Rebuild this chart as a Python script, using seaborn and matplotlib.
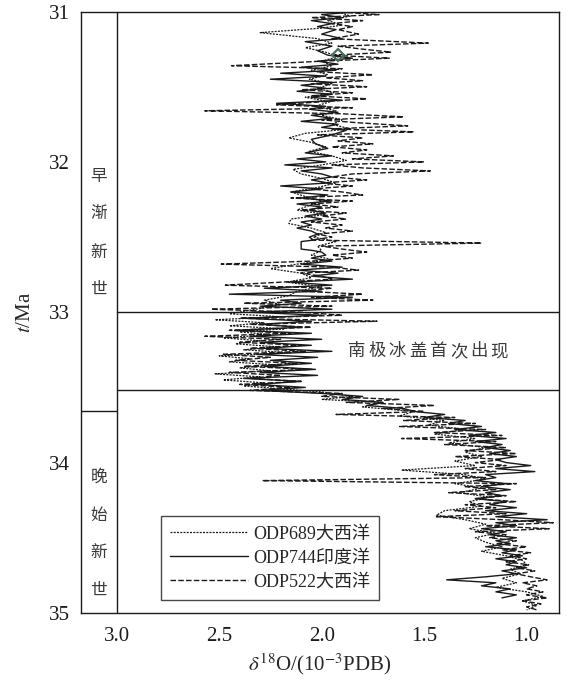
import matplotlib
matplotlib.use("Agg")
import matplotlib.pyplot as plt
import seaborn as sns
import pandas as pd

# ODP689 Atlantic (dotted)
age_689 = [31.00, 31.03, 31.06, 31.09, 31.11, 31.14, 31.18, 31.21, 31.24, 31.27, 31.30, 31.33,
           31.36, 31.39, 31.42, 31.45, 31.48, 31.51, 31.54, 31.57, 31.60, 31.63, 31.66, 31.69,
           31.72, 31.75, 31.78, 31.81, 31.84, 31.87, 31.90, 31.93, 31.96, 31.99, 32.02, 32.05,
           32.08, 32.11, 32.14, 32.17, 32.20, 32.23, 32.26, 32.29, 32.32, 32.35, 32.38, 32.41,
           32.44, 32.47, 32.50, 32.53, 32.56, 32.59, 32.62, 32.65, 32.68, 32.71, 32.74, 32.77,
           32.80, 32.83, 32.86, 32.89, 32.92, 32.95, 32.98, 33.01, 33.03, 33.05, 33.07, 33.09,
           33.11, 33.13, 33.15, 33.17, 33.19, 33.21, 33.23, 33.25, 33.27, 33.29, 33.31, 33.33,
           33.35, 33.37, 33.39, 33.41, 33.43, 33.45, 33.47, 33.49, 33.51, 33.53, 33.56, 33.58,
           33.60, 33.63, 33.66, 33.69, 33.72, 33.75, 33.78, 33.81, 33.84, 33.87, 33.90, 33.93,
           33.96, 33.99, 34.02, 34.05, 34.08, 34.11, 34.14, 34.17, 34.20, 34.23, 34.26, 34.29,
           34.32, 34.35, 34.38, 34.41, 34.44, 34.47, 34.50, 34.53, 34.56, 34.59, 34.62, 34.65,
           34.68, 34.71, 34.74, 34.77, 34.80, 34.83, 34.86, 34.89, 34.92, 34.95, 34.98]
d18o_689 = [1.92, 1.86, 1.97, 1.90, 2.00, 2.30, 2.02, 1.95, 2.08, 1.98, 1.92, 2.00,
            1.95, 2.05, 1.97, 2.06, 1.95, 2.02, 1.94, 2.08, 1.96, 2.03, 1.93, 2.00,
            1.90, 1.95, 1.86, 2.08, 2.16, 2.05, 1.98, 2.06, 1.95, 1.88, 2.00, 2.14,
            2.10, 2.00, 1.93, 2.02, 2.15, 2.08, 2.00, 2.06, 2.12, 1.98, 2.15, 2.16,
            2.05, 1.98, 2.04, 1.93, 2.02, 2.00, 2.05, 1.95, 2.12, 2.25, 2.10, 2.05,
            2.17, 2.00, 2.12, 2.16, 2.28, 2.20, 2.32, 2.45, 2.20, 2.52, 2.28, 2.45,
            2.18, 2.40, 2.25, 2.48, 2.30, 2.42, 2.22, 2.38, 2.15, 2.50, 2.35, 2.45,
            2.22, 2.40, 2.25, 2.52, 2.30, 2.48, 2.28, 2.38, 2.20, 2.00, 1.85, 2.00,
            1.70, 1.80, 1.55, 1.62, 1.40, 1.48, 1.30, 1.45, 1.25, 1.38, 1.20, 1.30,
            1.22, 1.35, 1.25, 1.61, 1.30, 1.20, 1.35, 1.22, 1.33, 1.18, 1.28, 1.22,
            1.40, 1.44, 1.30, 1.20, 1.28, 1.15, 1.25, 1.20, 1.12, 1.22, 1.10, 1.02,
            1.00, 1.08, 1.03, 1.12, 1.05, 1.15, 1.00, 0.92, 1.02, 0.95, 1.00]

# ODP744 Indian Ocean (solid)
age_744 = [31.00, 31.02, 31.04, 31.06, 31.08, 31.10, 31.12, 31.15, 31.18, 31.20, 31.23, 31.26,
           31.29, 31.31, 31.33, 31.35, 31.37, 31.39, 31.41, 31.43, 31.45, 31.47, 31.49, 31.51,
           31.53, 31.55, 31.57, 31.59, 31.61, 31.63, 31.65, 31.67, 31.69, 31.71, 31.73, 31.75,
           31.77, 31.79, 31.82, 31.85, 31.88, 31.91, 31.94, 31.96, 31.98, 32.00, 32.02, 32.04,
           32.06, 32.08, 32.10, 32.12, 32.14, 32.16, 32.18, 32.20, 32.22, 32.24, 32.26, 32.28,
           32.30, 32.32, 32.34, 32.36, 32.38, 32.40, 32.42, 32.44, 32.46, 32.48, 32.50, 32.52,
           32.53, 32.58, 32.59, 32.60, 32.62, 32.64, 32.66, 32.68, 32.70, 32.72, 32.74, 32.76,
           32.78, 32.80, 32.82, 32.84, 32.86, 32.88, 32.90, 32.92, 32.94, 32.96, 32.98, 33.00,
           33.02, 33.04, 33.06, 33.08, 33.10, 33.12, 33.14, 33.16, 33.18, 33.20, 33.22, 33.24,
           33.26, 33.28, 33.30, 33.32, 33.34, 33.36, 33.38, 33.40, 33.42, 33.44, 33.46, 33.48,
           33.50, 33.52, 33.54, 33.56, 33.58, 33.60, 33.62, 33.64, 33.66, 33.68, 33.70, 33.72,
           33.74, 33.76, 33.78, 33.80, 33.82, 33.84, 33.86, 33.88, 33.90, 33.92, 33.94, 33.96,
           33.98, 34.00, 34.02, 34.04, 34.06, 34.08, 34.10, 34.12, 34.14, 34.16, 34.18, 34.20,
           34.22, 34.24, 34.26, 34.28, 34.30, 34.32, 34.34, 34.36, 34.38, 34.40, 34.42, 34.44,
           34.46, 34.48, 34.50, 34.52, 34.54, 34.56, 34.58, 34.60, 34.62, 34.64, 34.66, 34.68,
           34.70, 34.72, 34.74, 34.76, 34.78, 34.80, 34.82, 34.84, 34.86, 34.88, 34.90]
d18o_744 = [1.82, 2.00, 1.90, 2.05, 1.95, 2.02, 1.93, 2.00, 1.90, 2.08, 1.95, 2.02,
            1.97, 1.85, 2.02, 1.92, 2.10, 1.93, 2.20, 1.98, 2.25, 1.95, 2.10, 1.98,
            2.12, 1.95, 2.05, 1.90, 2.22, 1.98, 2.06, 1.92, 2.05, 1.95, 2.10, 1.92,
            2.00, 1.88, 1.95, 2.05, 2.03, 1.97, 2.08, 1.95, 2.12, 1.98, 2.18, 1.95,
            2.10, 2.00, 1.95, 2.05, 1.97, 2.20, 2.00, 2.15, 1.97, 2.10, 1.95, 2.12,
            2.00, 2.06, 1.98, 2.08, 2.00, 2.10, 2.05, 2.12, 2.05, 2.02, 2.06, 2.04,
            2.10, 2.10, 2.04, 2.00, 1.98, 2.05, 1.95, 2.10, 1.90, 2.12, 1.92, 2.05,
            1.85, 2.15, 1.95, 2.28, 2.00, 2.45, 1.85, 2.20, 2.10, 2.30, 1.95, 2.35,
            2.00, 2.38, 2.05, 2.30, 2.10, 2.42, 2.05, 2.35, 2.00, 2.30, 2.05, 2.28,
            1.95, 2.32, 2.02, 2.25, 2.05, 2.28, 2.03, 2.30, 2.02, 2.38, 2.10, 2.32,
            2.08, 2.30, 2.00, 1.80, 1.90, 1.70, 1.78, 1.60, 1.55, 1.40, 1.50, 1.30,
            1.38, 1.22, 1.35, 1.15, 1.28, 1.10, 1.25, 1.12, 1.20, 1.08, 1.18, 1.05,
            1.15, 1.10, 0.98, 1.15, 0.96, 1.20, 1.15, 1.25, 1.10, 1.22, 1.08, 1.20,
            1.12, 1.25, 1.10, 1.18, 1.05, 1.20, 1.00, 1.15, 0.90, 1.15, 1.05, 1.22,
            1.10, 1.18, 1.05, 1.15, 1.08, 1.20, 1.05, 1.12, 1.02, 1.15, 1.05, 1.10,
            1.00, 1.12, 1.05, 1.20, 1.39, 1.15, 1.22, 1.08, 1.15, 1.05, 1.12]

# ODP522 Atlantic (dashed)
age_522 = [31.00, 31.02, 31.04, 31.06, 31.08, 31.10, 31.12, 31.15, 31.18, 31.21, 31.23, 31.25,
           31.27, 31.29, 31.31, 31.33, 31.36, 31.38, 31.40, 31.42, 31.44, 31.46, 31.48, 31.50,
           31.52, 31.54, 31.56, 31.58, 31.60, 31.62, 31.64, 31.66, 31.68, 31.70, 31.72, 31.74,
           31.76, 31.78, 31.80, 31.82, 31.84, 31.86, 31.88, 31.90, 31.92, 31.94, 31.96, 31.98,
           32.00, 32.02, 32.04, 32.06, 32.08, 32.10, 32.12, 32.14, 32.16, 32.18, 32.20, 32.22,
           32.24, 32.26, 32.28, 32.30, 32.32, 32.34, 32.36, 32.38, 32.40, 32.42, 32.44, 32.46,
           32.48, 32.50, 32.52, 32.54, 32.56, 32.58, 32.60, 32.62, 32.64, 32.66, 32.68, 32.70,
           32.72, 32.74, 32.76, 32.78, 32.80, 32.82, 32.84, 32.86, 32.88, 32.90, 32.92, 32.94,
           32.96, 32.98, 33.00, 33.02, 33.04, 33.06, 33.08, 33.10, 33.12, 33.14, 33.16, 33.18,
           33.20, 33.22, 33.24, 33.26, 33.28, 33.30, 33.32, 33.34, 33.36, 33.38, 33.40, 33.42,
           33.44, 33.46, 33.48, 33.50, 33.52, 33.54, 33.56, 33.58, 33.60, 33.62, 33.64, 33.66,
           33.68, 33.70, 33.72, 33.74, 33.76, 33.78, 33.80, 33.82, 33.84, 33.86, 33.88, 33.90,
           33.92, 33.94, 33.96, 33.98, 34.00, 34.02, 34.04, 34.06, 34.08, 34.10, 34.12, 34.14,
           34.16, 34.18, 34.20, 34.22, 34.24, 34.26, 34.28, 34.30, 34.32, 34.34, 34.36, 34.38,
           34.40, 34.42, 34.44, 34.46, 34.48, 34.50, 34.52, 34.54, 34.56, 34.58, 34.60, 34.62,
           34.64, 34.66, 34.68, 34.70, 34.72, 34.74, 34.76, 34.78, 34.80, 34.82, 34.84, 34.86,
           34.88, 34.90, 34.92, 34.94, 34.96, 34.98]
d18o_522 = [1.95, 1.72, 2.05, 1.80, 1.95, 1.85, 1.92, 1.82, 1.95, 1.48, 1.92, 1.80,
            1.66, 1.95, 1.67, 2.00, 2.44, 1.90, 2.02, 1.75, 1.98, 1.80, 2.05, 1.78,
            2.10, 1.85, 2.05, 1.78, 2.00, 2.22, 1.85, 2.57, 1.90, 1.60, 2.00, 1.82,
            1.58, 1.95, 1.55, 2.02, 1.80, 1.92, 1.75, 1.95, 1.78, 1.90, 1.65, 1.85,
            1.50, 1.95, 1.80, 1.47, 1.85, 1.95, 1.78, 2.00, 1.85, 2.05, 1.90, 1.80,
            2.15, 1.85, 2.05, 1.92, 2.10, 1.88, 2.00, 1.88, 2.05, 1.90, 1.98, 1.85,
            2.02, 1.95, 2.05, 1.22, 2.00, 1.90, 1.78, 1.95, 1.85, 2.05, 2.49, 1.95,
            1.82, 2.10, 2.00, 1.95, 2.20, 2.47, 1.95, 2.10, 1.80, 2.05, 1.75, 2.38,
            1.95, 2.54, 2.10, 1.90, 2.40, 1.73, 2.35, 2.05, 2.45, 2.15, 2.57, 2.20,
            2.40, 2.10, 2.35, 2.08, 2.48, 2.25, 2.42, 2.12, 2.38, 2.05, 2.45, 2.20,
            2.35, 2.10, 2.40, 2.15, 2.35, 1.90, 2.00, 1.62, 1.88, 1.45, 1.70, 1.50,
            1.93, 1.35, 1.60, 1.25, 1.62, 1.20, 1.45, 1.12, 1.61, 1.15, 1.40, 1.10,
            1.30, 1.05, 1.35, 1.12, 1.25, 1.10, 1.30, 1.15, 1.45, 1.20, 2.29, 1.05,
            1.30, 1.15, 1.38, 1.10, 1.25, 1.05, 1.30, 1.15, 1.35, 1.10, 1.44, 1.12,
            0.87, 1.20, 0.89, 1.25, 1.10, 1.18, 1.05, 1.15, 1.00, 1.12, 0.98, 1.08,
            1.00, 1.10, 0.99, 1.05, 0.96, 1.05, 0.98, 0.90, 1.02, 0.95, 1.00, 0.92,
            1.00, 0.90, 1.02, 0.93, 1.00, 0.95]

series_names = ["ODP689大西洋", "ODP744印度洋", "ODP522大西洋"]
epoch_upper = "早渐新世"
epoch_lower = "晚始新世"
event_label = "南极冰盖首次出现"

sns.set_style("white")
plt.rcParams["font.family"] = ["Liberation Serif", "Noto Sans CJK SC"]
plt.rcParams["mathtext.fontset"] = "stix"

fig = plt.figure(figsize=(5.67, 6.81), dpi=100)
ax = fig.add_axes([0.1429, 0.100, 0.843, 0.883])

ink = "#1a1a1a"
sns.lineplot(x=d18o_689, y=age_689, sort=False, estimator=None, ax=ax, color=ink,
             linewidth=0.9, linestyle=(0, (1.6, 1.0)), label=series_names[0])
sns.lineplot(x=d18o_744, y=age_744, sort=False, estimator=None, ax=ax, color=ink,
             linewidth=1.0, linestyle="-", label=series_names[1])
sns.lineplot(x=d18o_522, y=age_522, sort=False, estimator=None, ax=ax, color=ink,
             linewidth=1.0, linestyle=(0, (4.0, 1.6)), label=series_names[2])
# small hollow diamond seen in the source figure
ax.plot([1.92], [31.29], marker="D", ms=6, mfc="none", mec="#4d6e5c", mew=1.6)

xmin, xmax = 3.174, 0.842
ax.set_xlim(xmin, xmax)
ax.set_ylim(35, 31)
frac = (xmin - 3.0) / (xmin - xmax)

ax.axvline(3.0, color=ink, lw=1.0)
ax.axhline(33.0, xmin=frac, xmax=1, color=ink, lw=1.0)
ax.axhline(33.52, xmin=frac, xmax=1, color=ink, lw=1.0)
ax.axhline(33.66, xmin=0, xmax=frac, color=ink, lw=1.0)

# letter-spaced event label
step = 0.0995
for i, ch in enumerate(event_label):
    ax.text(1.83 - step * i, 33.26, ch, fontsize=12.5, ha="center", va="center",
            color="#3a3a3a", family=["Noto Sans CJK SC"])
for i, ch in enumerate(epoch_upper):
    ax.text(3.087, 32.1 + 0.25 * i, ch, fontsize=12, ha="center", va="center",
            color="#3a3a3a", family=["Noto Sans CJK SC"])
for i, ch in enumerate(epoch_lower):
    ax.text(3.087, 34.1 + 0.25 * i, ch, fontsize=12, ha="center", va="center",
            color="#3a3a3a", family=["Noto Sans CJK SC"])

ax.set_xticks([3.0, 2.5, 2.0, 1.5, 1.0])
ax.set_xticklabels(["3.0", "2.5", "2.0", "1.5", "1.0"])
ax.set_yticks([31, 32, 33, 34, 35])
ax.tick_params(direction="in", length=6, width=1, labelsize=15, colors=ink)
ax.tick_params(axis="x", pad=10)
ax.tick_params(axis="y", pad=8)
for sp in ax.spines.values():
    sp.set_color(ink)
    sp.set_linewidth(1.0)

ax.set_xlabel(r"$\delta^{18}$O/(10$^{-3}$PDB)", fontsize=15, labelpad=4)
ax.set_ylabel(r"$t$/Ma", fontsize=15, labelpad=10)

leg = ax.legend(loc="lower left", bbox_to_anchor=(0.167, 0.022), fontsize=13,
                handlelength=4.3, frameon=True, fancybox=False, borderpad=0.5,
                labelspacing=0.4, handletextpad=0.3, borderaxespad=0)
leg.get_frame().set_edgecolor(ink)
leg.get_frame().set_linewidth(1.0)

plt.savefig("out.png", dpi=100)
